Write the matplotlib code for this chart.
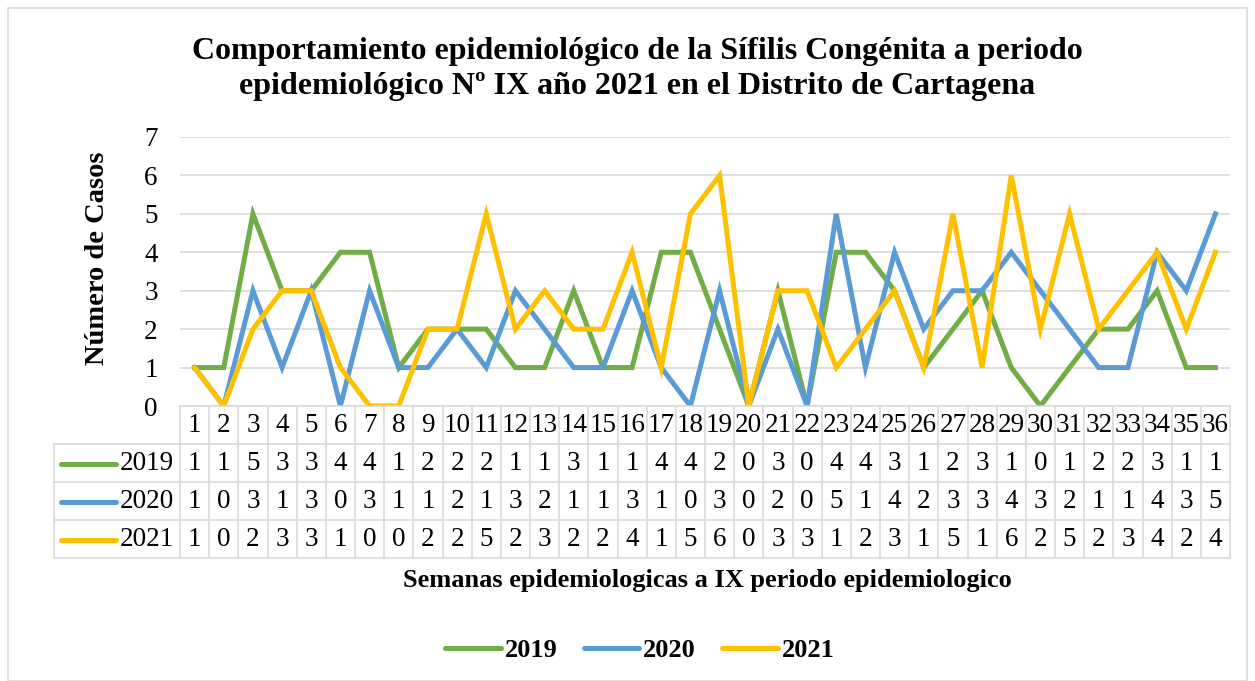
import matplotlib.pyplot as plt
import matplotlib.transforms as mtransforms
from matplotlib.patches import Rectangle

plt.rcParams['font.family'] = ['Liberation Serif', 'DejaVu Serif']

semanas = list(range(1, 37))
casos_2019 = [1, 1, 5, 3, 3, 4, 4, 1, 2, 2, 2, 1, 1, 3, 1, 1, 4, 4, 2, 0, 3, 0, 4, 4, 3, 1, 2, 3, 1, 0, 1, 2, 2, 3, 1, 1]
casos_2020 = [1, 0, 3, 1, 3, 0, 3, 1, 1, 2, 1, 3, 2, 1, 1, 3, 1, 0, 3, 0, 2, 0, 5, 1, 4, 2, 3, 3, 4, 3, 2, 1, 1, 4, 3, 5]
casos_2021 = [1, 0, 2, 3, 3, 1, 0, 0, 2, 2, 5, 2, 3, 2, 2, 4, 1, 5, 6, 0, 3, 3, 1, 2, 3, 1, 5, 1, 6, 2, 5, 2, 3, 4, 2, 4]
series = [('2019', casos_2019, '#70ad47'),
          ('2020', casos_2020, '#5b9bd5'),
          ('2021', casos_2021, '#ffc000')]

W, H = 1255, 681
fig = plt.figure(figsize=(W / 100, H / 100), dpi=100)

# chart border
fig.patches.append(Rectangle((8 / W, 0), (W - 16) / W, 1 - 8 / H, transform=fig.transFigure,
                             fill=False, edgecolor='#d9d9d9', linewidth=1.2))

x0, x1, y0, y1 = 180, 1230, 406, 137
ax = fig.add_axes([x0 / W, 1 - y0 / H, (x1 - x0) / W, (y0 - y1) / H])
ax.set_xlim(0.5, 36.5)
ax.set_ylim(0, 7)

for nombre, vals, color in series:
    ax.plot(semanas, vals, color=color, linewidth=3.6, label=nombre, solid_joinstyle='miter')

ax.set_yticks(range(0, 8))
ax.tick_params(axis='y', length=0, labelsize=19.5, pad=16)
ax.set_xticks([])
ax.grid(axis='y', color='#d9d9d9', linewidth=1.2)
ax.set_axisbelow(True)
for s in ['top', 'right', 'left']:
    ax.spines[s].set_visible(False)
ax.spines['bottom'].set_color('#d9d9d9')
ax.spines['bottom'].set_linewidth(1.2)

fig.text(97 / W, 1 - 258 / H, 'Número de Casos', rotation=90, ha='center', va='center',
         fontsize=20.5, fontweight='bold')

# data table under the axis
trans = mtransforms.blended_transform_factory(ax.transData, ax.transAxes)
hpx = y0 - y1
colw = (x1 - x0) / 36
def ya(px):
    return (y0 - px) / hpx
def xd(px):
    return 0.5 + (px - x0) / colw

row_edges = [406, 444, 482, 520, 558]
grid_kw = dict(color='#d9d9d9', linewidth=1.2, clip_on=False)
for i in range(37):
    xv = 0.5 + i
    ax.plot([xv, xv], [ya(406), ya(558)], transform=trans, **grid_kw)
for r in row_edges[1:]:
    ax.plot([xd(54), 36.5], [ya(r), ya(r)], transform=trans, **grid_kw)
ax.plot([xd(54), xd(54)], [ya(444), ya(558)], transform=trans, **grid_kw)

for s in semanas:
    ax.text(s, ya(426), str(s), transform=trans, ha='center', va='center', fontsize=19.5)

for k, (nombre, vals, color) in enumerate(series):
    yc = ya((row_edges[k + 1] + row_edges[k + 2]) / 2 + 1)
    for s, v in zip(semanas, vals):
        ax.text(s, yc, str(v), transform=trans, ha='center', va='center', fontsize=19.5)
    ax.text(xd(174), yc, nombre, transform=trans, ha='right', va='center', fontsize=19.5)
    ax.plot([xd(61), xd(116)], [yc, yc], transform=trans, color=color, linewidth=3.6,
            clip_on=False, solid_capstyle='round')

fig.text(707 / W, 1 - 581 / H, 'Semanas epidemiologicas a IX periodo epidemiologico',
         ha='center', va='center', fontsize=19, fontweight='bold')

fig.text(637 / W, 1 - 69 / H,
         'Comportamiento epidemiológico de la Sífilis Congénita a periodo\n'
         'epidemiológico Nº IX año 2021 en el Distrito de Cartagena',
         ha='center', va='center', fontsize=23, fontweight='bold', linespacing=1.3)

leg = fig.legend(loc='center', bbox_to_anchor=(640 / W, 1 - 650 / H), ncol=3, frameon=False,
                 prop={'size': 19, 'weight': 'bold'}, handlelength=2.1, columnspacing=1.0,
                 handletextpad=0.15)
for line in leg.get_lines():
    line.set_linewidth(3.6)
    line.set_solid_capstyle('round')

fig.savefig('out.png', dpi=100)
